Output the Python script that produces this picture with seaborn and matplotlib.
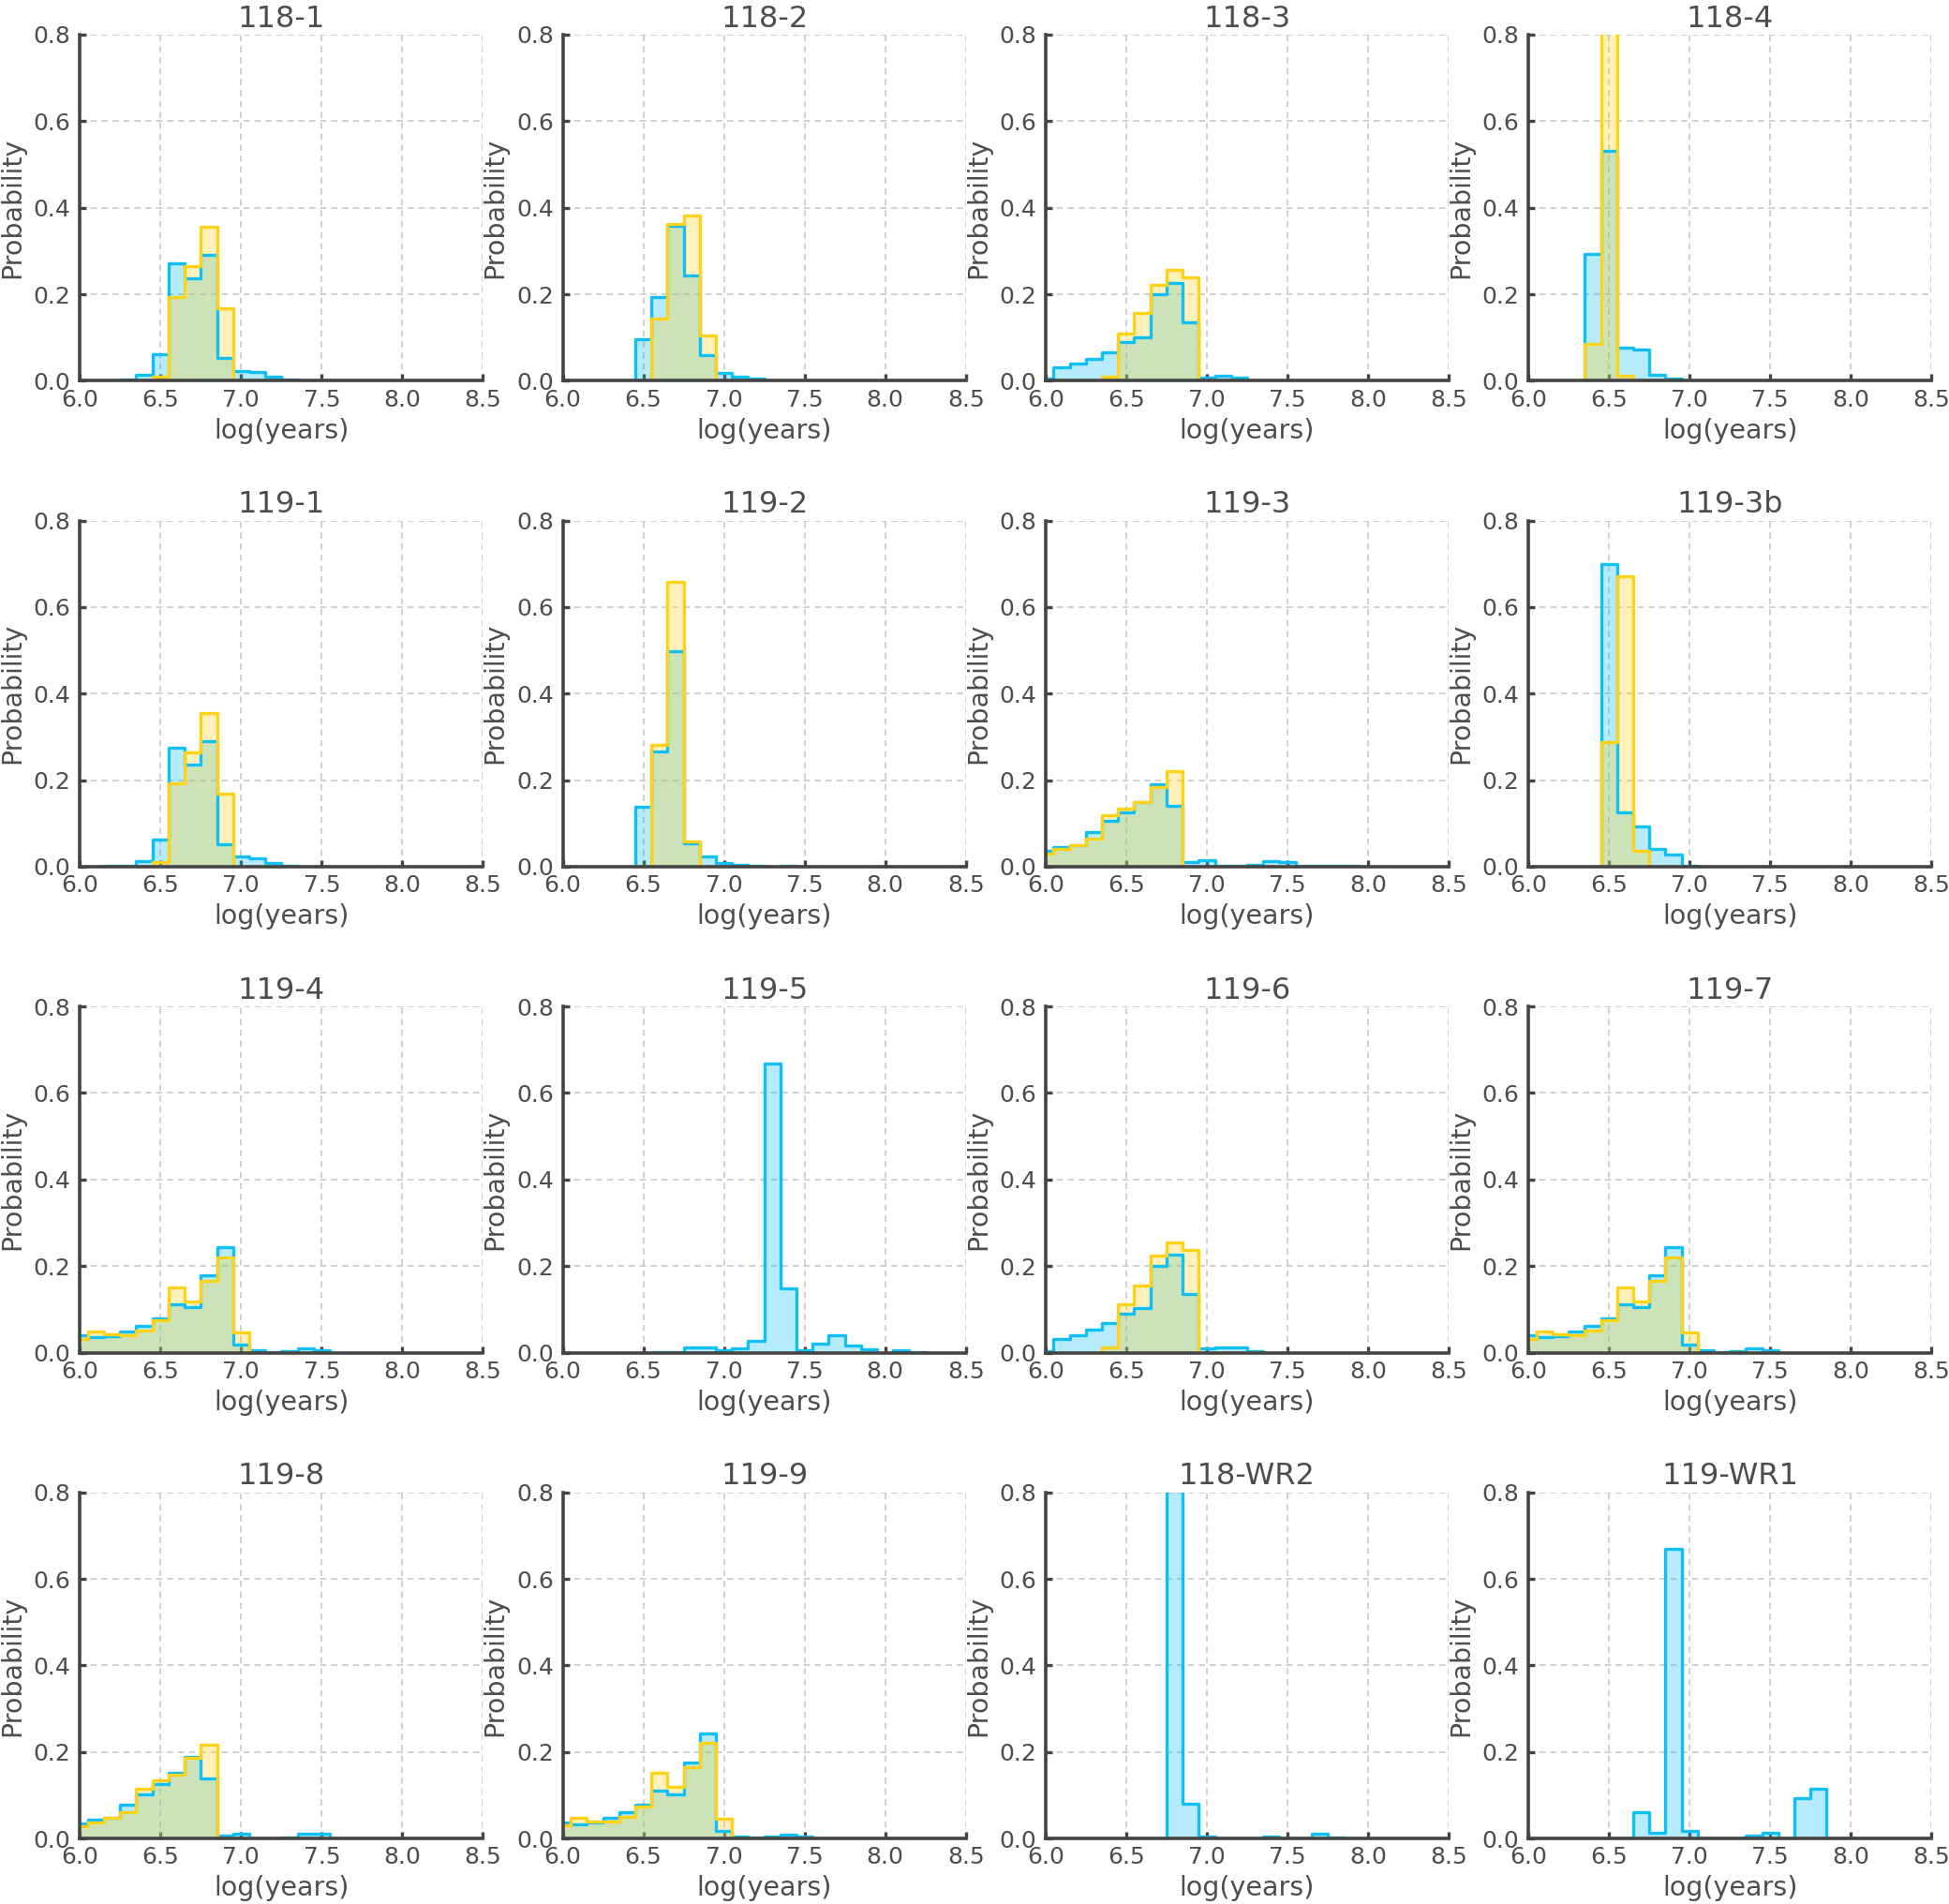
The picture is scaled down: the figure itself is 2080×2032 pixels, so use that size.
import numpy as np
import pandas as pd

import matplotlib
matplotlib.use("Agg")
import matplotlib.pyplot as plt
import seaborn as sns


# BIN CENTERS (log years, bins 0.1 wide)
bin_centers = [6.0, 6.1, 6.2, 6.3, 6.4, 6.5, 6.6, 6.7, 6.8, 6.9, 7.0, 7.1, 7.2,
               7.3, 7.4, 7.5, 7.6, 7.7, 7.8, 7.9, 8.0, 8.1, 8.2, 8.3, 8.4, 8.5]
bin_edges = [c - 0.05 for c in bin_centers] + [bin_centers[-1] + 0.05]

panel_names = ["118-1", "118-2", "118-3", "118-4",
               "119-1", "119-2", "119-3", "119-3b",
               "119-4", "119-5", "119-6", "119-7",
               "119-8", "119-9", "118-WR2", "119-WR1"]

x_ticks = [6.0, 6.5, 7.0, 7.5, 8.0, 8.5]
y_ticks = [0.0, 0.2, 0.4, 0.6, 0.8]


# BLUE SERIES (first 13 bins: 6.0-7.2, last 13 bins: 7.3-8.5)
blue_118_1 = [0, 0, 0, 0.002, 0.014, 0.061, 0.272, 0.236, 0.290, 0.053, 0.022, 0.020, 0.009,
              0.002, 0, 0, 0, 0, 0, 0, 0, 0, 0, 0, 0, 0]
blue_118_2 = [0, 0, 0, 0, 0, 0.095, 0.193, 0.358, 0.243, 0.059, 0.017, 0.009, 0.004,
              0.001, 0, 0, 0, 0, 0, 0, 0, 0, 0, 0, 0, 0]
blue_118_3 = [0.004, 0.030, 0.039, 0.050, 0.066, 0.090, 0.100, 0.200, 0.225, 0.135, 0.008, 0.012, 0.008,
              0.001, 0, 0, 0, 0, 0, 0, 0, 0, 0, 0, 0, 0]
blue_118_4 = [0, 0, 0, 0, 0.293, 0.531, 0.077, 0.072, 0.014, 0.004, 0, 0, 0,
              0, 0, 0, 0, 0, 0, 0, 0, 0, 0, 0, 0, 0]
blue_119_1 = [0, 0, 0.002, 0.003, 0.013, 0.063, 0.275, 0.237, 0.289, 0.051, 0.023, 0.019, 0.008,
              0.002, 0, 0, 0, 0, 0, 0, 0, 0, 0, 0, 0, 0]
blue_119_2 = [0, 0, 0, 0, 0, 0.138, 0.267, 0.498, 0.054, 0.023, 0.009, 0.004, 0.001,
              0, 0.001, 0, 0, 0, 0, 0, 0, 0, 0, 0, 0, 0]
blue_119_3 = [0.037, 0.045, 0.050, 0.080, 0.105, 0.125, 0.150, 0.190, 0.140, 0.010, 0.015, 0.002, 0.002,
              0.004, 0.013, 0.011, 0.002, 0.002, 0.002, 0.002, 0, 0, 0, 0, 0, 0]
blue_119_3b = [0, 0, 0, 0, 0, 0.700, 0.125, 0.092, 0.042, 0.027, 0.003, 0, 0,
               0, 0, 0, 0, 0, 0, 0, 0, 0, 0, 0, 0, 0]
blue_119_4 = [0.040, 0.035, 0.038, 0.048, 0.061, 0.079, 0.112, 0.104, 0.178, 0.243, 0.018, 0.005, 0.002,
              0.004, 0.010, 0.005, 0, 0, 0, 0, 0, 0, 0, 0, 0, 0]
blue_119_5 = [0, 0, 0, 0, 0, 0, 0.001, 0.001, 0.011, 0.013, 0.006, 0.010, 0.027,
              0.668, 0.148, 0.005, 0.020, 0.040, 0.017, 0.008, 0, 0.005, 0.001, 0, 0, 0]
blue_119_6 = [0.004, 0.032, 0.040, 0.053, 0.069, 0.090, 0.103, 0.200, 0.226, 0.136, 0.009, 0.012, 0.012,
              0.004, 0, 0, 0, 0, 0, 0, 0, 0, 0, 0, 0, 0]
blue_119_7 = [0.040, 0.035, 0.038, 0.048, 0.061, 0.079, 0.112, 0.104, 0.178, 0.243, 0.018, 0.005, 0.002,
              0.004, 0.010, 0.005, 0, 0, 0, 0, 0, 0, 0, 0, 0, 0]
blue_119_8 = [0.035, 0.043, 0.048, 0.079, 0.103, 0.126, 0.152, 0.188, 0.139, 0.007, 0.012, 0, 0,
              0.002, 0.011, 0.011, 0, 0, 0, 0, 0, 0, 0, 0, 0, 0]
blue_119_9 = [0.038, 0.033, 0.038, 0.047, 0.060, 0.078, 0.110, 0.103, 0.175, 0.243, 0.017, 0.005, 0.002,
              0.004, 0.009, 0.005, 0, 0, 0, 0, 0, 0, 0, 0, 0, 0]
blue_118_wr2 = [0, 0, 0, 0, 0, 0, 0, 0, 0.895, 0.080, 0.005, 0, 0,
                0, 0.005, 0, 0, 0.012, 0.003, 0, 0, 0, 0, 0, 0, 0]
blue_119_wr1 = [0, 0, 0, 0, 0, 0, 0, 0.060, 0.013, 0.670, 0.018, 0, 0,
                0, 0.006, 0.013, 0, 0.093, 0.115, 0, 0, 0, 0, 0, 0, 0]


# YELLOW SERIES (same bins, None = no yellow histogram in that panel)
yellow_118_1 = [0, 0, 0, 0, 0, 0.009, 0.193, 0.264, 0.356, 0.167, 0, 0, 0,
                0, 0, 0, 0, 0, 0, 0, 0, 0, 0, 0, 0, 0]
yellow_118_2 = [0, 0, 0, 0, 0, 0, 0.144, 0.362, 0.382, 0.105, 0, 0, 0,
                0, 0, 0, 0, 0, 0, 0, 0, 0, 0, 0, 0, 0]
yellow_118_3 = [0, 0, 0, 0, 0.009, 0.109, 0.156, 0.221, 0.256, 0.238, 0, 0, 0,
                0, 0, 0, 0, 0, 0, 0, 0, 0, 0, 0, 0, 0]
yellow_118_4 = [0, 0, 0, 0, 0.085, 0.900, 0.012, 0, 0, 0, 0, 0, 0,
                0, 0, 0, 0, 0, 0, 0, 0, 0, 0, 0, 0, 0]
yellow_119_1 = [0, 0, 0, 0, 0, 0.011, 0.192, 0.264, 0.355, 0.168, 0, 0, 0,
                0, 0, 0, 0, 0, 0, 0, 0, 0, 0, 0, 0, 0]
yellow_119_2 = [0, 0, 0, 0, 0, 0, 0.281, 0.658, 0.058, 0, 0, 0, 0,
                0, 0, 0, 0, 0, 0, 0, 0, 0, 0, 0, 0, 0]
yellow_119_3 = [0.030, 0.040, 0.050, 0.065, 0.120, 0.135, 0.150, 0.185, 0.220, 0, 0, 0, 0,
                0, 0, 0, 0, 0, 0, 0, 0, 0, 0, 0, 0, 0]
yellow_119_3b = [0, 0, 0, 0, 0, 0.287, 0.672, 0.036, 0, 0, 0, 0, 0,
                 0, 0, 0, 0, 0, 0, 0, 0, 0, 0, 0, 0, 0]
yellow_119_4 = [0.032, 0.048, 0.042, 0.040, 0.050, 0.075, 0.150, 0.119, 0.165, 0.220, 0.046, 0, 0,
                0, 0, 0, 0, 0, 0, 0, 0, 0, 0, 0, 0, 0]
yellow_119_6 = [0, 0, 0, 0, 0.012, 0.111, 0.154, 0.224, 0.255, 0.238, 0, 0, 0,
                0, 0, 0, 0, 0, 0, 0, 0, 0, 0, 0, 0, 0]
yellow_119_7 = [0.032, 0.048, 0.042, 0.040, 0.050, 0.075, 0.150, 0.119, 0.165, 0.220, 0.046, 0, 0,
                0, 0, 0, 0, 0, 0, 0, 0, 0, 0, 0, 0, 0]
yellow_119_8 = [0.029, 0.036, 0.047, 0.060, 0.116, 0.134, 0.147, 0.186, 0.217, 0, 0, 0, 0,
                0, 0, 0, 0, 0, 0, 0, 0, 0, 0, 0, 0, 0]
yellow_119_9 = [0.030, 0.047, 0.040, 0.040, 0.050, 0.073, 0.152, 0.120, 0.165, 0.222, 0.045, 0, 0,
                0, 0, 0, 0, 0, 0, 0, 0, 0, 0, 0, 0, 0]

blue_series = [blue_118_1, blue_118_2, blue_118_3, blue_118_4,
               blue_119_1, blue_119_2, blue_119_3, blue_119_3b,
               blue_119_4, blue_119_5, blue_119_6, blue_119_7,
               blue_119_8, blue_119_9, blue_118_wr2, blue_119_wr1]
yellow_series = [yellow_118_1, yellow_118_2, yellow_118_3, yellow_118_4,
                 yellow_119_1, yellow_119_2, yellow_119_3, yellow_119_3b,
                 yellow_119_4, None, yellow_119_6, yellow_119_7,
                 yellow_119_8, yellow_119_9, None, None]


# STYLE
sns.set_theme(style="white")
plt.rcParams['font.family'] = ['DejaVu Sans']

text_color = "#4d4d4d"
blue = "#10bff5"
yellow = "#ffd21a"


# FIGURE
fig, axes = plt.subplots(4, 4, figsize=(20.8, 20.32), dpi=100)
fig.subplots_adjust(left=0.041, right=0.991, top=0.9818, bottom=0.0344,
                    wspace=0.198, hspace=0.404)

for ax, name, b_vals, y_vals in zip(axes.flat, panel_names, blue_series, yellow_series):

    df = pd.DataFrame({"age": bin_centers, "blue": b_vals})
    layers = [("blue", blue)]
    if y_vals is not None:
        df["yellow"] = y_vals
        layers.append(("yellow", yellow))

    # fills first, outlines on top
    for col, c in layers:
        sns.histplot(
            data=df, x="age", weights=col,
            bins=bin_edges, element="step", fill=True,
            color=c, alpha=0.3, linewidth=0,
            ax=ax
        )
    for col, c in layers:
        sns.histplot(
            data=df, x="age", weights=col,
            bins=bin_edges, element="step", fill=False,
            color=c, alpha=1, linewidth=2.4,
            ax=ax
        )

    ax.set_xlim(6.0, 8.5)
    ax.set_ylim(0.0, 0.8)
    ax.set_xticks(x_ticks)
    ax.set_yticks(y_ticks)
    ax.set_xticklabels([f"{t:.1f}" for t in x_ticks])
    ax.set_yticklabels([f"{t:.1f}" for t in y_ticks])

    ax.set_title(name, fontsize=23, color=text_color, pad=6)
    ax.set_xlabel("log(years)", fontsize=20.5, color=text_color, labelpad=5)
    ax.set_ylabel("Probability", fontsize=20.5, color=text_color, labelpad=6)

    ax.grid(True, linestyle=(0, (4, 3)), color="#c8c8c8", linewidth=1.2)
    ax.set_axisbelow(True)

    for side in ["top", "right"]:
        ax.spines[side].set_visible(False)
    for side in ["left", "bottom"]:
        ax.spines[side].set_color("#444444")
        ax.spines[side].set_linewidth(2.6)

    ax.tick_params(axis="both", direction="in", length=5, width=2.4,
                   colors="#444444", labelcolor=text_color, labelsize=18,
                   bottom=True, left=True)
    ax.tick_params(axis="x", pad=6)
    ax.tick_params(axis="y", pad=7)


# SAVE
plt.savefig("out.png", dpi=100)
